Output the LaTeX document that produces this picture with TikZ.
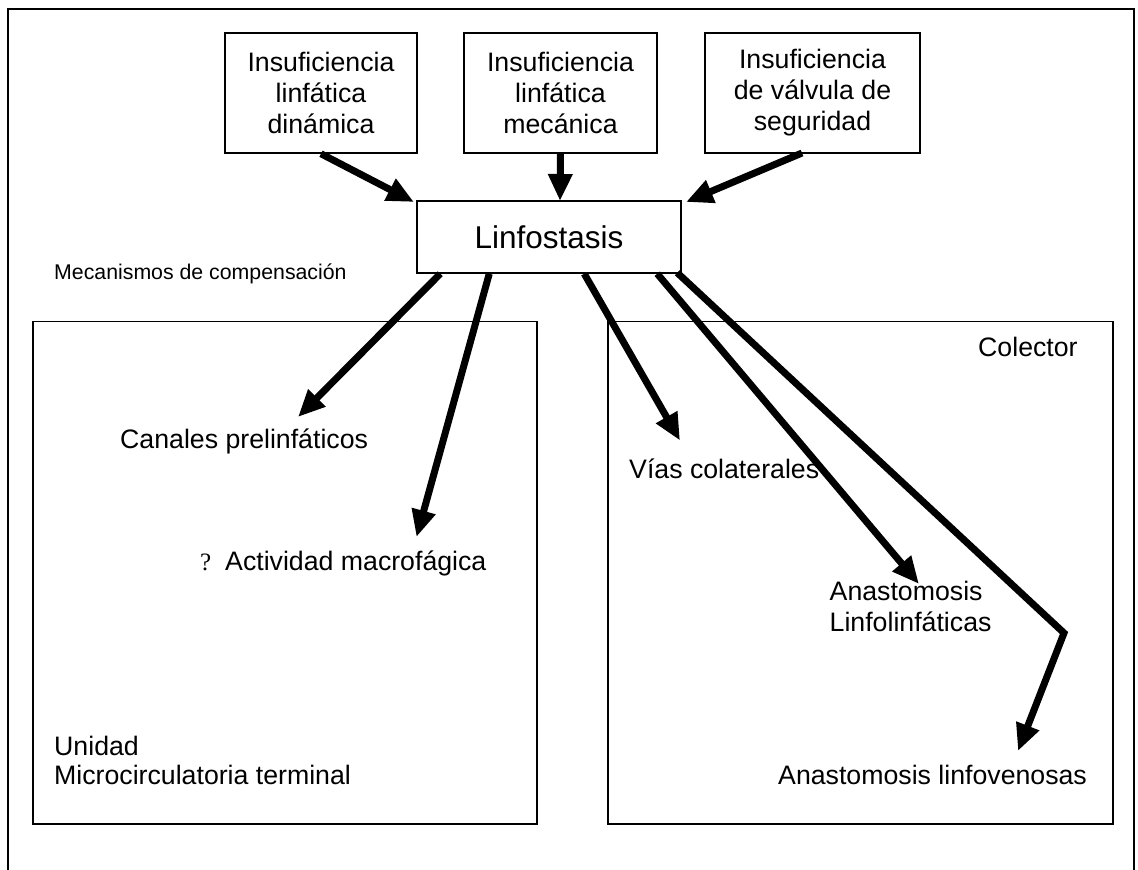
\documentclass[tikz,border=0pt]{standalone}
\usepackage{fontspec}
\setmainfont{Liberation Sans}
\newfontfamily\serifq{Liberation Serif}
\usetikzlibrary{arrows.meta,calc}
\begin{document}
\begin{tikzpicture}[x=1pt,y=-1pt,
  box/.style={draw, line width=1.5pt, inner sep=0pt, align=center},
  bigtxt/.style={font=\fontsize{26.7}{31}\selectfont},
  lbl/.style={inner sep=0pt, anchor=base west, align=left, font=\fontsize{26.7}{30}\selectfont},
  arr/.style={line width=7pt, -{Triangle[length=27pt,width=23pt]}},
]
\useasboundingbox (0,0) rectangle (1138,870);
% outer frame (open at the bottom)
\draw[line width=1.5pt] (8,880) -- (8,9) -- (1134,9) -- (1134,880);

% top boxes
\node[box, bigtxt, minimum width=192pt, minimum height=120pt] (b1) at (321,93) {Insuficiencia\\linfática\\dinámica};
\node[box, bigtxt, minimum width=193pt, minimum height=120pt] (b2) at (560.5,93) {Insuficiencia\\linfática\\mecánica};
\node[box, bigtxt, minimum width=215pt, minimum height=120pt] (b3) at (812.5,93) {Insuficiencia\\de válvula de\\seguridad};

% central box
\node[box, font=\fontsize{31.5}{36}\selectfont, minimum width=264pt, minimum height=72pt] (linf) at (549,237) {Linfostasis};

% lower boxes
\node[box, minimum width=504pt, minimum height=502.5pt] (left) at (285,572.75) {};
\node[box, minimum width=505pt, minimum height=502.5pt] (right) at (860.5,572.75) {};

% labels
\node[lbl, font=\fontsize{21.3}{25}\selectfont] (mec) at (54,279) {Mecanismos de compensación};
\node[lbl] (canales) at (120,448) {Canales prelinfáticos};
\node[lbl, font=\fontsize{25}{29}\serifq\selectfont] (q) at (200,570) {?};
\node[lbl] (activ) at (225,570) {Actividad macrofágica};
\node[lbl, font=\fontsize{26.7}{29}\selectfont] (unidad) at (54,784.5) {Unidad\\Microcirculatoria terminal};
\node[lbl] (colector) at (978,356) {Colector};
\node[lbl] (vias) at (629,478.6) {Vías colaterales};
\node[lbl, font=\fontsize{26.7}{31}\selectfont] (anll) at (829.5,631) {Anastomosis\\Linfolinfáticas};
\node[lbl] (anlv) at (778,784.5) {Anastomosis linfovenosas};

% arrow end points
\coordinate (s3) at (802,153);
\coordinate (e1) at (414,202);
\coordinate (e2) at (560,201);
\coordinate (e3) at (686,202);
\coordinate (o1) at ($(linf.south west)+(24,0)$);
\coordinate (o2) at ($(linf.south west)+(73,0)$);
\coordinate (o3) at ($(linf.south west)+(168,0)$);
\coordinate (o4) at ($(linf.south west)+(241,0)$);
\coordinate (o5) at ($(linf.south west)+(261,-1)$);
\coordinate (tcan) at (298,417);
\coordinate (tact) at (416.5,537);
\coordinate (tvia) at (680,440.5);
\coordinate (tll) at (919,584);
\coordinate (bend) at (1064,633);
\coordinate (tlv) at (1018,751);

% arrows into Linfostasis
\draw[arr] (b1.south) -- (e1);
\draw[arr] (b2.south) -- (e2);
\draw[arr] (s3) -- (e3);

% compensation arrows
\draw[arr] (o1) -- (tcan);
\draw[arr] (o2) -- (tact);
\draw[arr] (o3) -- (tvia);
\draw[arr] (o4) -- (tll);
\draw[arr, line join=miter] (o5) -- (bend) -- (tlv);
\end{tikzpicture}
\end{document}
